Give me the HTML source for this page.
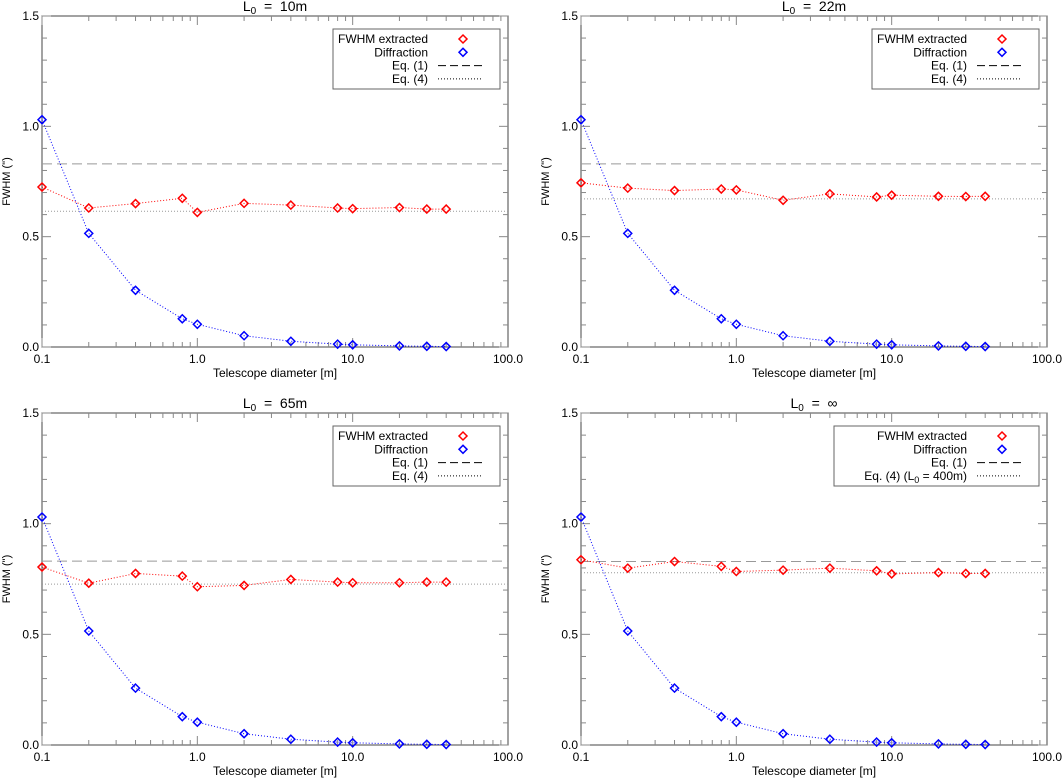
<!DOCTYPE html>
<html><head><meta charset="utf-8">
<style>
html,body{margin:0;padding:0;background:#fff;}
svg{display:block;font-family:"Liberation Sans",sans-serif;}
</style></head>
<body>
<svg id="chart" width="1063" height="780" viewBox="0 0 1063 780" xmlns="http://www.w3.org/2000/svg"></svg>
<script>
// ---- data ----
const diameters = [0.1,0.2,0.4,0.8,1,2,4,8,10,20,30,40];
const diffraction = [1.03,0.515,0.257,0.128,0.103,0.051,0.026,0.013,0.010,0.005,0.003,0.002];
const fwhm10 = [0.725,0.63,0.65,0.674,0.61,0.651,0.643,0.63,0.627,0.632,0.625,0.625];
const fwhm22 = [0.744,0.72,0.709,0.716,0.712,0.665,0.694,0.68,0.688,0.683,0.682,0.683];
const fwhm65 = [0.804,0.731,0.775,0.763,0.715,0.721,0.748,0.736,0.733,0.733,0.736,0.736];
const fwhmInf = [0.837,0.799,0.829,0.807,0.784,0.79,0.799,0.787,0.773,0.779,0.775,0.775];
const eq1Values = [0.83,0.83,0.831,0.829];
const eq4Values = [0.615,0.671,0.727,0.778];
const panelTitles = ["10m","22m","65m","∞"];
const eq4Labels = ["Eq. (4)","Eq. (4)","Eq. (4)","Eq. (4) (L0 = 400m)"];
const yTicks = [0.0,0.5,1.0,1.5];
const xTicks = [0.1,1,10,100];
const xTickLabels = ["0.1","1.0","10.0","100.0"];
const fwhmSeries = [fwhm10,fwhm22,fwhm65,fwhmInf];

const svg = document.getElementById('chart');
const NS = 'http://www.w3.org/2000/svg';
function mk(tag, attrs, parent){
  const e = document.createElementNS(NS, tag);
  for (const k in attrs) e.setAttribute(k, attrs[k]);
  (parent||svg).appendChild(e);
  return e;
}
const panels = [[42,16,508,347],[581,16,1047,347],[42,413,508,745],[581,413,1047,745]];
const axisCol = '#444';

panels.forEach((p, i) => {
  const [L,T,R,B] = p;
  const g = mk('g', {});
  
  
  const xs = v => L + (Math.log10(v) + 1) / 3 * (R - L);
  const ys = v => B - v / 1.5 * (B - T);

  const t = mk('text', {x:(L+R)/2, y:T-5, 'text-anchor':'middle', 'font-size':14, fill:'#000', 'xml:space':'preserve'}, g);
  
  
  t.innerHTML = 'L<tspan font-size="10" dy="3">0</tspan><tspan dy="-3">&#160; = &#160;' + panelTitles[i] + '</tspan>';

  const fr = mk('rect', {x:L, y:T, width:R-L, height:B-T, fill:'none', stroke:axisCol, 'stroke-width':1}, g);
  
  

  for (let k = 0; k <= 15; k++) {
    const v = k/10, y = ys(v), major = (k % 5 === 0);
    const len = major ? 9 : 5;
    mk('line', {x1:L, x2:L+len, y1:y, y2:y, stroke:'#888', 'stroke-width':1}, g);
    mk('line', {x1:R, x2:R-len, y1:y, y2:y, stroke:'#888', 'stroke-width':1}, g);
  }
  yTicks.forEach(v => {
    const tl = mk('text', {x:L-3, y:ys(v)+4, 'text-anchor':'end', 'font-size':12, fill:'#000'}, g);
    
    
    tl.textContent = v.toFixed(1);
  });
  for (let d = 0; d < 3; d++) {
    for (let m = 1; m <= 9; m++) {
      const v = Math.pow(10, d-1) * m, x = xs(v);
      const len = m === 1 ? 9 : 5;
      mk('line', {x1:x, x2:x, y1:B, y2:B-len, stroke:'#888', 'stroke-width':1}, g);
      mk('line', {x1:x, x2:x, y1:T, y2:T+len, stroke:'#888', 'stroke-width':1}, g);
    }
  }
  xTicks.forEach((v, k) => {
    const tl = mk('text', {x:xs(v), y:B+16, 'text-anchor':'middle', 'font-size':12, fill:'#000'}, g);
    
    
    tl.textContent = xTickLabels[k];
  });
  const xt = mk('text', {x:(L+R)/2, y:B+30, 'text-anchor':'middle', 'font-size':12, fill:'#000'}, g);
  
  
  xt.textContent = 'Telescope diameter [m]';
  const yt = mk('text', {x:0, y:0, 'text-anchor':'middle', 'font-size':11, fill:'#000', transform:'translate(' + (L-32) + ',' + ((T+B)/2) + ') rotate(-90)'}, g);
  
  
  yt.textContent = 'FWHM (")';

  const e1 = mk('line', {x1:L, x2:R, y1:ys(eq1Values[i]), y2:ys(eq1Values[i]), stroke:'#999', 'stroke-width':1, 'stroke-dasharray':'10,5'}, g);
  
  
  const e4 = mk('line', {x1:L, x2:R, y1:ys(eq4Values[i]), y2:ys(eq4Values[i]), stroke:'#999', 'stroke-width':1, 'stroke-dasharray':'1,2'}, g);
  
  

  function series(vals, col, name) {
    const pts = diameters.map((d, k) => xs(d) + ',' + ys(vals[k])).join(' ');
    const pl = mk('polyline', {points:pts, fill:'none', stroke:col, 'stroke-width':1, 'stroke-dasharray':'1,2'}, g);
    
    
    diameters.forEach((d, k) => {
      const x = xs(d), y = ys(vals[k]);
      const dm = mk('polygon', {points:(x)+','+(y-4)+' '+(x+4)+','+y+' '+x+','+(y+4)+' '+(x-4)+','+y, fill:'none', stroke:col, 'stroke-width':1.5}, g);
      
      
    });
  }
  series(fwhmSeries[i], '#ff0000', 'fwhm-extracted');
  series(diffraction, '#0000ff', 'diffraction');

  const lw = i === 3 ? 205 : 167;
  const lg = mk('g', {}, g);
  
  
  mk('rect', {x:R-8-lw, y:T+13, width:lw, height:60, fill:'#fff', stroke:'#666', 'stroke-width':1}, lg);
  const labels = ['FWHM extracted','Diffraction','Eq. (1)', eq4Labels[i]];
  labels.forEach((lab, k) => {
    const y = T + 23 + k*13.3;
    const tx = mk('text', {x:R-80, y:y+4, 'text-anchor':'end', 'font-size':12, fill:'#000'}, lg);
    
    
    if (lab.indexOf('L0') >= 0) tx.innerHTML = 'Eq. (4) (L<tspan font-size="9" dy="3">0</tspan><tspan dy="-3"> = 400m)</tspan>';
    else tx.textContent = lab;
    const sx = R-45;
    if (k < 2) {
      const col = k === 0 ? '#ff0000' : '#0000ff';
      mk('polygon', {points:sx+','+(y-4)+' '+(sx+4)+','+y+' '+sx+','+(y+4)+' '+(sx-4)+','+y, fill:'none', stroke:col, 'stroke-width':1.5}, lg);
    } else {
      mk('line', {x1:R-70, x2:R-26, y1:y, y2:y, stroke:'#000', 'stroke-width':1, 'stroke-dasharray': k===2 ? '8,4' : '1,2'}, lg);
    }
  });
});
</script>
</body></html>
